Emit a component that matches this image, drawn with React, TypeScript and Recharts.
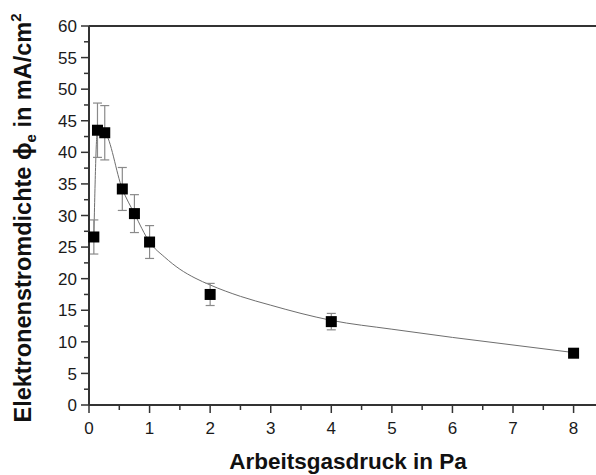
import { ComposedChart, Scatter, Line, XAxis, YAxis, ErrorBar, ReferenceLine, Label } from 'recharts'

// measured points: working gas pressure (Pa) vs. electron current density (mA/cm²)
const pressure = [0.08, 0.14, 0.26, 0.55, 0.75, 1, 2, 4, 8]
const density = [26.6, 43.5, 43.1, 34.2, 30.3, 25.8, 17.5, 13.2, 8.2]
const densityErr = [2.7, 4.3, 4.3, 3.4, 3.0, 2.6, 1.75, 1.3, 0.5]

// guide curve through the measurements
const fitX = [0.08, 0.14, 0.26, 0.55, 0.75, 1, 1.25, 1.5, 1.75, 2, 2.5, 3, 3.5, 4, 5, 6, 7, 8]
const fitY = [26.6, 43.5, 43.1, 34.2, 30.3, 25.8, 23.4, 21.5, 20.1, 19.0, 17.2, 15.8, 14.5, 13.4, 12.0, 10.7, 9.5, 8.3]

const xTicks = [0, 0.5, 1, 1.5, 2, 2.5, 3, 3.5, 4, 4.5, 5, 5.5, 6, 6.5, 7, 7.5, 8]
const yTicks = [0, 2.5, 5, 7.5, 10, 12.5, 15, 17.5, 20, 22.5, 25, 27.5, 30, 32.5, 35, 37.5, 40, 42.5, 45, 47.5, 50, 52.5, 55, 57.5, 60]

const points = pressure.map((x, i) => ({ x, y: density[i], err: densityErr[i] }))
const fit = fitX.map((x, i) => ({ x, y: fitY[i] }))

const FONT = '"Liberation Sans", Arial, sans-serif'
const AXIS = '#333'

function XTick({ x, y, payload }: any) {
  const major = Number.isInteger(payload.value)
  return (
    <g>
      <line x1={x} x2={x} y1={y} y2={y + (major ? 8 : 5)} stroke={AXIS} strokeWidth={1.5} />
      {major && (
        <text x={x} y={y + 28.5} textAnchor="middle" fontSize={17} fontFamily={FONT} fill="#1a1a1a">
          {payload.value}
        </text>
      )}
    </g>
  )
}

function YTick({ x, y, payload }: any) {
  const major = payload.value % 5 === 0
  return (
    <g>
      <line x1={x} x2={x - (major ? 8 : 5)} y1={y} y2={y} stroke={AXIS} strokeWidth={1.5} />
      {major && (
        <text x={x - 12} y={y} dy="0.36em" textAnchor="end" fontSize={17} fontFamily={FONT} fill="#1a1a1a">
          {payload.value}
        </text>
      )}
    </g>
  )
}

const Square = ({ cx, cy }: any) => <rect x={cx - 5.5} y={cy - 5.5} width={11} height={11} fill="#000" />

export default function App() {
  return (
    <div style={{ position: 'absolute', left: 0, top: 0, width: 596, height: 475, background: '#fff' }}>
      <ComposedChart width={596} height={475} margin={{ top: 26, right: 0, bottom: 0, left: 0 }}>
        <XAxis
          type="number"
          dataKey="x"
          domain={[0, 8.37]}
          ticks={xTicks}
          interval={0}
          height={70}
          tickSize={0}
          tickMargin={0}
          tickLine={false}
          tick={<XTick />}
          axisLine={{ stroke: AXIS, strokeWidth: 2 }}
        >
          <Label
            content={() => (
              <text x={348} y={469} textAnchor="middle" fontSize={22.5} fontWeight="bold" fontFamily={FONT} fill="#111">
                Arbeitsgasdruck in Pa
              </text>
            )}
          />
        </XAxis>
        <YAxis
          type="number"
          domain={[0, 60]}
          ticks={yTicks}
          interval={0}
          width={89}
          tickSize={0}
          tickMargin={0}
          tickLine={false}
          tick={<YTick />}
          axisLine={{ stroke: AXIS, strokeWidth: 2 }}
        >
          <Label
            content={() => (
              <text
                x={31}
                y={218}
                transform="rotate(-90 31 218)"
                textAnchor="middle"
                fontSize={23.5}
                fontWeight="bold"
                fontFamily={FONT}
                fill="#111"
              >
                Elektronenstromdichte ϕ
                <tspan fontSize={15} dy={5}>e</tspan>
                <tspan dy={-5}> in mA/cm</tspan>
                <tspan fontSize={15} dy={-10}>2</tspan>
              </text>
            )}
          />
        </YAxis>
        <ReferenceLine y={60} stroke={AXIS} strokeWidth={2} />
        <Line
          data={fit}
          dataKey="y"
          type="monotone"
          stroke="#6e6e6e"
          strokeWidth={1}
          dot={false}
          activeDot={false}
          isAnimationActive={false}
        />
        <Scatter data={points} dataKey="y" shape={<Square />} isAnimationActive={false}>
          <ErrorBar dataKey="err" direction="y" width={4.5} stroke="#8a8a8a" strokeWidth={1.2} />
        </Scatter>
      </ComposedChart>
    </div>
  )
}
